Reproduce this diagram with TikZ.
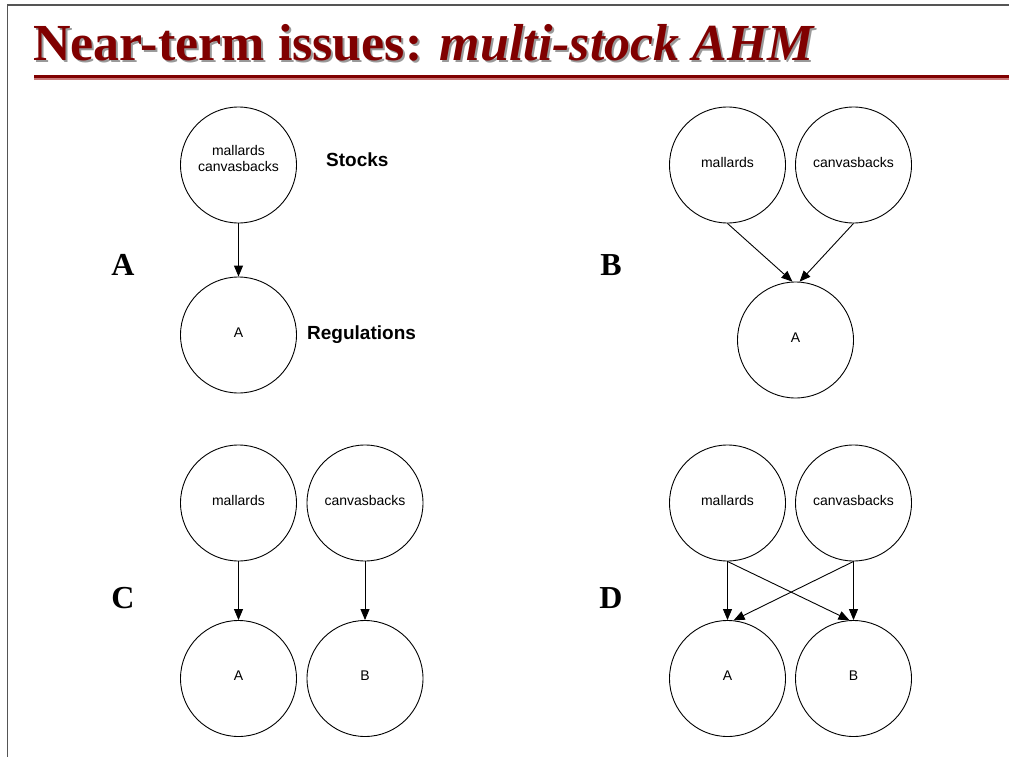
\documentclass[tikz,border=0pt]{standalone}
\usepackage{fontspec}
\setmainfont{Liberation Serif}
\setsansfont{Liberation Sans}
\usetikzlibrary{arrows.meta}
\definecolor{titlered}{RGB}{128,0,0}
\definecolor{rulepink}{RGB}{200,120,120}
\definecolor{framegray}{RGB}{85,85,85}
\begin{document}
\begin{tikzpicture}[x=1pt,y=-1pt,
  stock/.style={circle,draw,line width=0.9pt,minimum size=116pt,inner sep=0pt,
    text depth=5pt,font=\sffamily\fontsize{14}{16}\selectfont,align=center},
  link/.style={line width=0.9pt,-{Triangle[length=11pt,width=9pt]}},
  tag/.style={font=\bfseries\fontsize{32}{32}\selectfont},
  side/.style={anchor=base west,inner sep=0pt,font=\sffamily\bfseries\fontsize{19}{22}\selectfont},
  headline/.style={anchor=base west,inner sep=0pt,font=\bfseries\fontsize{52}{52}\selectfont}]
\useasboundingbox (0,0) rectangle (1009,757);

% slide frame
\draw[framegray,line width=1.5pt] (7.5,757) -- (7.5,5) -- (1009,5);

% heading with drop shadow and underline
\node[headline,text=black!40] (titleshadow) at (35,63) {Near-term issues: \textit{multi-stock AHM}};
\node[headline,text=titlered] (title) at (33,61) {Near-term issues: \textit{multi-stock AHM}};
\draw[rulepink,line width=1.5pt] (34,79) -- (1009,79);
\draw[titlered,line width=3pt] (34,76.5) -- (1009,76.5);

% panel letters
\node[tag] (lA) at (123,265) {A};
\node[tag] (lB) at (611,265) {B};
\node[tag] (lC) at (123,598) {C};
\node[tag] (lD) at (611,598) {D};

% panel A: one combined stock, one regulation
\node[stock,text depth=13pt] (aS) at (238.5,165) {mallards\\canvasbacks};
\node[stock] (aR) at (238.5,335) {A};
\node[side] (stocks) at (326,166.5) {Stocks};
\node[side] (regs) at (307,339) {Regulations};
\draw[link] (aS.south) -- (aR.north);

% panel B: two stocks, one regulation
\node[stock] (bm) at (727.5,165) {mallards};
\node[stock] (bc) at (853.5,165) {canvasbacks};
\node[stock] (bA) at (795.5,340) {A};
\draw[link] (bm.south) -- (bA.93.5);
\draw[link] (bc.south) -- (bA.86.5);

% panel C: two stocks, separate regulations
\node[stock] (cm) at (238.5,503) {mallards};
\node[stock] (cc) at (365,503) {canvasbacks};
\node[stock] (cA) at (238.5,678.5) {A};
\node[stock] (cB) at (365,678.5) {B};
\draw[link] (cm.south) -- (cA.north);
\draw[link] (cc.south) -- (cB.north);

% panel D: two stocks, each informing both regulations
\node[stock] (dm) at (727.5,503) {mallards};
\node[stock] (dc) at (853.5,503) {canvasbacks};
\node[stock] (dA) at (727.5,678.5) {A};
\node[stock] (dB) at (853.5,678.5) {B};
\draw[link] (dm.south) -- (dA.north);
\draw[link] (dm.south) -- (dB.94);
\draw[link] (dc.south) -- (dA.84);
\draw[link] (dc.south) -- (dB.north);
\end{tikzpicture}
\end{document}
